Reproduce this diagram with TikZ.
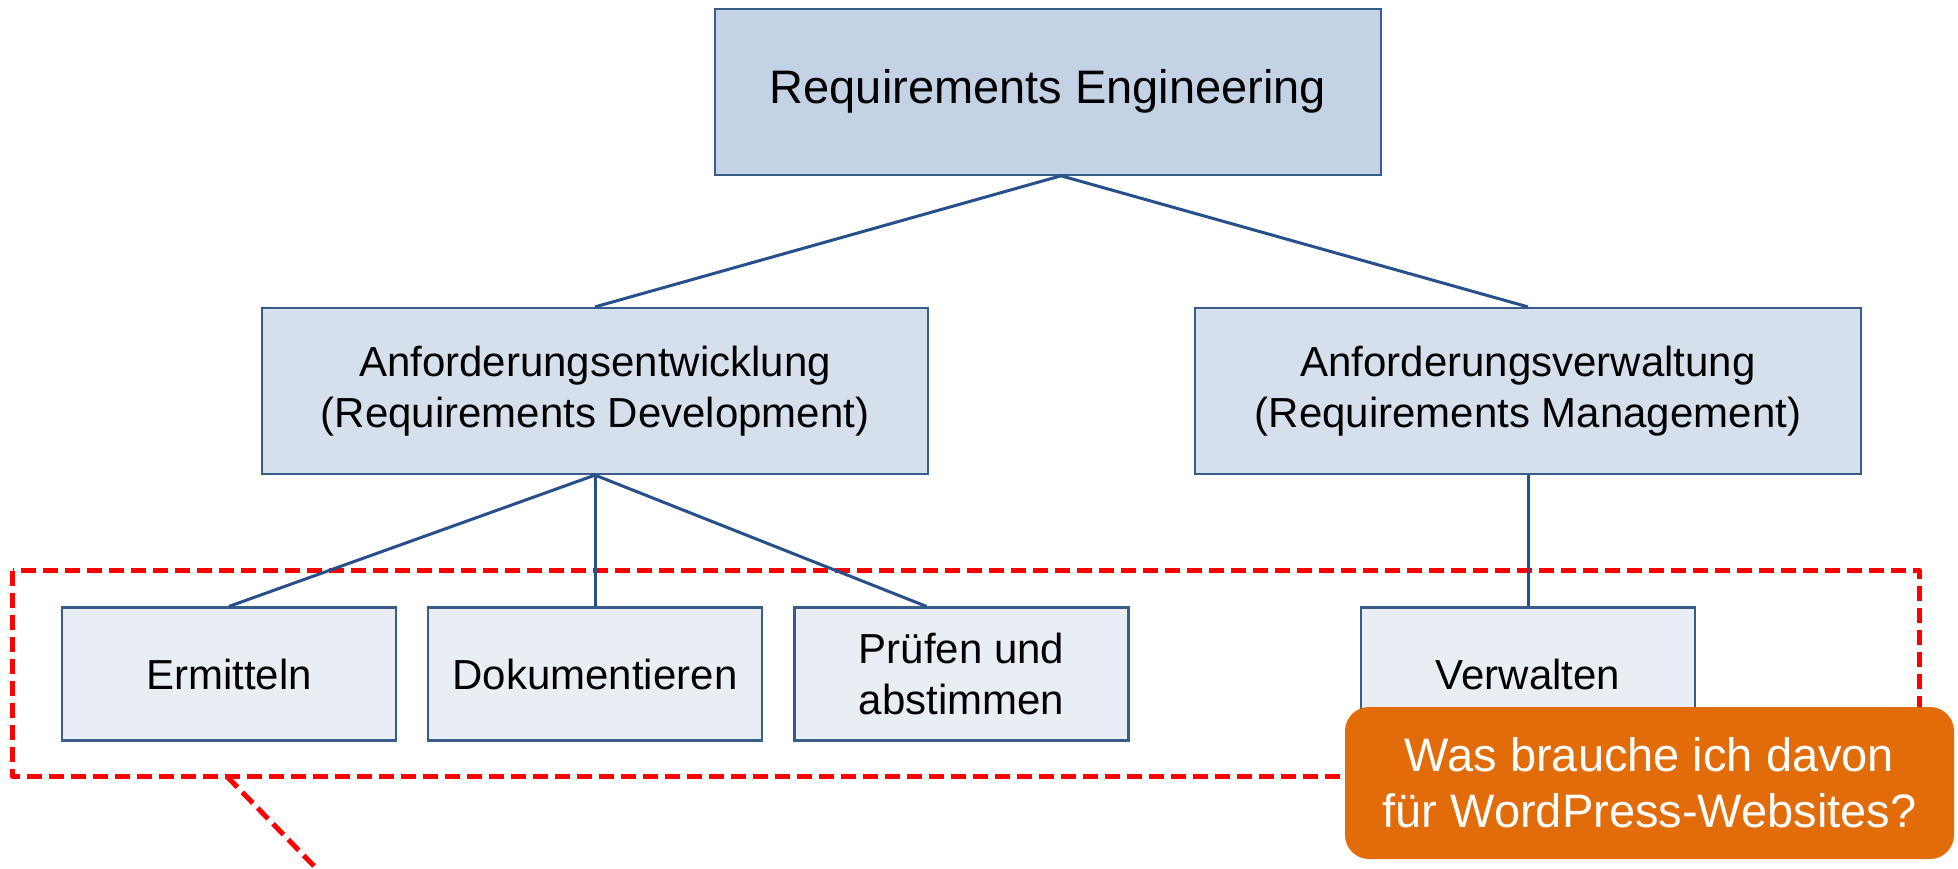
\documentclass[tikz,border=0pt]{standalone}
\usepackage{fontspec}
\setmainfont{Liberation Sans}
\usetikzlibrary{calc}
\definecolor{boxline}{HTML}{385D8A}
\definecolor{linkcol}{HTML}{274F8C}
\definecolor{fillA}{HTML}{C3D2E5}
\definecolor{fillB}{HTML}{D6E0EC}
\definecolor{fillC}{HTML}{E9EEF5}
\definecolor{calloutcol}{HTML}{E36C0A}
\tikzset{
  basebox/.style={draw=boxline, line width=2.2pt, inner sep=0pt, align=center, text=black},
  topbox/.style={basebox, fill=fillA, minimum width=666pt, minimum height=166pt,
    font=\fontsize{47pt}{56pt}\selectfont},
  midbox/.style={basebox, fill=fillB, minimum width=666pt, minimum height=166pt,
    font=\fontsize{42pt}{51pt}\selectfont},
  leafbox/.style={basebox, fill=fillC, minimum width=334pt, minimum height=133pt,
    font=\fontsize{42pt}{51pt}\selectfont},
  link/.style={draw=linkcol, line width=3pt},
  focus/.style={draw=red, line width=5pt, dash pattern=on 15pt off 7pt, line join=round},
  callout/.style={fill=calloutcol, rounded corners=24pt, inner sep=0pt, align=center,
    text=white, minimum width=609pt, minimum height=152pt,
    font=\fontsize{47pt}{56pt}\selectfont}
}
\begin{document}
\begin{tikzpicture}[x=1pt, y=-1pt]
  \useasboundingbox (0,0) rectangle (1958,869);

  % hierarchy boxes
  \node[topbox] (re) at (1048,91.7) {Requirements Engineering};
  \node[midbox] (dev) at (595,391) {Anforderungsentwicklung\\(Requirements Development)};
  \node[midbox] (mgmt) at (1528,391) {Anforderungsverwaltung\\(Requirements Management)};
  \node[leafbox] (erm) at (229,674) {Ermitteln};
  \node[leafbox] (dok) at (595,674) {Dokumentieren};
  \node[leafbox] (pru) at (961.5,674) {Prüfen und\\abstimmen};
  \node[leafbox] (ver) at (1528,674) {Verwalten};

  % highlighted group of activities with its pointer line
  \coordinate (fa) at (12.5,570.7);
  \coordinate (fb) at (1919.5,776.5);
  \coordinate (tailstart) at (227,776.5);
  \coordinate (tailend) at (314,866);
  \draw[focus] (fa) rectangle (fb);
  \draw[focus] (tailstart) -- (tailend);

  % connectors
  \coordinate (apex) at ($(re.south)+(13,0)$);
  \draw[link] (apex) -- (dev.north);
  \draw[link] (apex) -- (mgmt.north);
  \draw[link] (dev.south) -- (erm.north);
  \draw[link] (dev.south) -- (dok.north);
  \draw[link] (dev.south) -- ($(pru.north west)+(133,0)$);
  \draw[link] (mgmt.south) -- (ver.north);

  % question callout
  \node[callout] (q) at (1649.5,783) {Was brauche ich davon\\für WordPress-Websites?};
\end{tikzpicture}
\end{document}
